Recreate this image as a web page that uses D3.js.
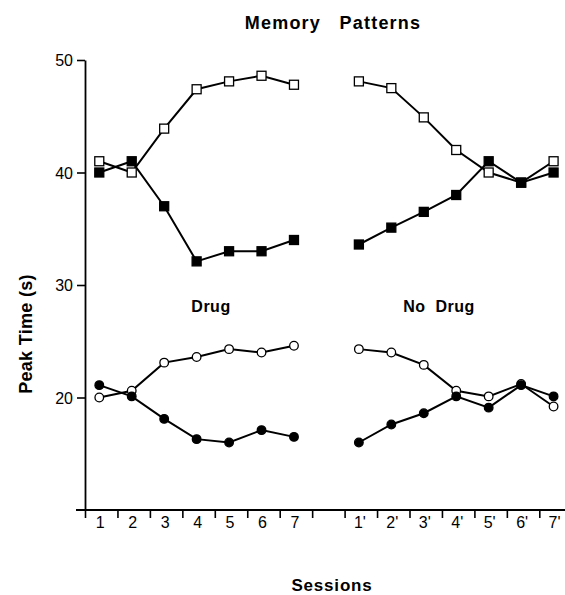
<!DOCTYPE html>
<html>
<head>
<meta charset="utf-8">
<script src="https://cdn.jsdelivr.net/npm/d3@7"></script>
<style>
  body { margin: 0; background: #fff; }
  text { font-family: "Liberation Sans", Arial, sans-serif; fill: #000; }
</style>
</head>
<body>
<div id="chart"></div>
<script>
// ---- data ----
var drugSessions = ["1", "2", "3", "4", "5", "6", "7"];
var noDrugSessions = ["1'", "2'", "3'", "4'", "5'", "6'", "7'"];

// squares (upper pair)
var drugOpenSq    = [41.0, 40.0, 43.9, 47.4, 48.1, 48.6, 47.8];
var drugFilledSq  = [40.0, 41.0, 37.0, 32.1, 33.0, 33.0, 34.0];
var noDrugOpenSq  = [48.1, 47.5, 44.9, 42.0, 40.0, 39.1, 41.0];
var noDrugFilledSq = [33.6, 35.1, 36.5, 38.0, 41.0, 39.1, 40.0];

// circles (lower pair)
var drugOpenCirc    = [20.0, 20.6, 23.1, 23.6, 24.3, 24.0, 24.6];
var drugFilledCirc  = [21.1, 20.1, 18.1, 16.3, 16.0, 17.1, 16.5];
var noDrugOpenCirc  = [24.3, 24.0, 22.9, 20.6, 20.1, 21.2, 19.2];
var noDrugFilledCirc = [16.0, 17.6, 18.6, 20.1, 19.1, 21.1, 20.1];

var yTicks = [20, 30, 40, 50];

// ---- svg area ----
var svgWidth = 565;
var svgHeight = 595;

var svg = d3.select("#chart")
    .append("svg")
    .attr("width", svgWidth)
    .attr("height", svgHeight);

// slots: 0-6 drug, 7 empty, 8-14 no drug
var xScale = d3.scaleLinear()
    .domain([0, 15])
    .range([85, 85 + 15 * 32.45]);

var yScale = d3.scaleLinear()
    .domain([10, 50])
    .range([510, 60]);

var markOffset = 0.44;

function slotX(i, block) {
    return xScale(block * 8 + i + markOffset);
}

// ---- axes ----
var leftAxis = d3.axisLeft(yScale)
    .tickValues(yTicks)
    .tickSize(8)
    .tickSizeOuter(0)
    .tickPadding(4);

var yAxisG = svg.append("g")
    .attr("transform", `translate(${xScale(0)}, 0)`)
    .call(leftAxis);
yAxisG.select(".domain").attr("stroke-width", 1.8);
yAxisG.selectAll(".tick line").attr("stroke-width", 1.6);
yAxisG.selectAll(".tick text")
    .style("font-size", "16px")
    .attr("dy", "0.36em");

var bottomAxis = d3.axisBottom(xScale)
    .tickValues(d3.range(0, 15))
    .tickFormat("")
    .tickSize(8)
    .tickSizeOuter(0);

var xAxisG = svg.append("g")
    .attr("transform", `translate(0, ${yScale(10)})`)
    .call(bottomAxis);
xAxisG.select(".domain").remove();
xAxisG.selectAll(".tick line").attr("stroke-width", 1.6);
xAxisG.append("line")
    .attr("x1", xScale(0) - 9)
    .attr("x2", svgWidth)
    .attr("stroke", "#000")
    .attr("stroke-width", 1.8);

// session labels
[drugSessions, noDrugSessions].forEach(function(labels, block) {
    svg.selectAll(null)
        .data(labels)
        .enter()
        .append("text")
        .attr("x", (d, i) => slotX(i, block) + 1)
        .attr("y", 528)
        .attr("text-anchor", "middle")
        .style("font-size", "16px")
        .text(d => d);
});

// ---- series ----
var line = d3.line()
    .x(d => d.x)
    .y(d => yScale(d.v));

var series = [
    { vals: drugOpenSq, block: 0, shape: "square", filled: false },
    { vals: drugFilledSq, block: 0, shape: "square", filled: true },
    { vals: noDrugOpenSq, block: 1, shape: "square", filled: false },
    { vals: noDrugFilledSq, block: 1, shape: "square", filled: true },
    { vals: drugOpenCirc, block: 0, shape: "circle", filled: false },
    { vals: drugFilledCirc, block: 0, shape: "circle", filled: true },
    { vals: noDrugOpenCirc, block: 1, shape: "circle", filled: false },
    { vals: noDrugFilledCirc, block: 1, shape: "circle", filled: true }
];

series.forEach(function(s) {
    s.pts = s.vals.map((v, i) => ({ x: slotX(i, s.block), v: v }));
    svg.append("path")
        .datum(s.pts)
        .attr("d", line)
        .attr("fill", "none")
        .attr("stroke", "#000")
        .attr("stroke-width", 2);
});

series.forEach(function(s) {
    var g = svg.append("g");
    if (s.shape === "square") {
        g.selectAll("rect")
            .data(s.pts)
            .enter()
            .append("rect")
            .attr("x", d => d.x - 4.5)
            .attr("y", d => yScale(d.v) - 4.5)
            .attr("width", 9)
            .attr("height", 9)
            .attr("fill", s.filled ? "#000" : "#fff")
            .attr("stroke", "#000")
            .attr("stroke-width", 1.3);
    } else {
        g.selectAll("circle")
            .data(s.pts)
            .enter()
            .append("circle")
            .attr("cx", d => d.x)
            .attr("cy", d => yScale(d.v))
            .attr("r", 4.3)
            .attr("fill", s.filled ? "#000" : "#fff")
            .attr("stroke", "#000")
            .attr("stroke-width", 1.3);
    }
});

// ---- text ----
svg.append("text")
    .attr("x", 333)
    .attr("y", 29)
    .attr("text-anchor", "middle")
    .attr("xml:space", "preserve")
    .style("white-space", "pre")
    .style("font-size", "18px")
    .style("font-weight", "bold")
    .style("letter-spacing", "1.2px")
    .text("Memory   Patterns");

svg.append("text")
    .attr("x", 211)
    .attr("y", 312)
    .attr("text-anchor", "middle")
    .style("font-size", "16px")
    .style("font-weight", "bold")
    .style("letter-spacing", "0.5px")
    .text("Drug");

svg.append("text")
    .attr("x", 439)
    .attr("y", 312)
    .attr("text-anchor", "middle")
    .attr("xml:space", "preserve")
    .style("white-space", "pre")
    .style("font-size", "16px")
    .style("font-weight", "bold")
    .style("letter-spacing", "0.5px")
    .text("No  Drug");

svg.append("text")
    .attr("x", 332)
    .attr("y", 591)
    .attr("text-anchor", "middle")
    .style("font-size", "17px")
    .style("font-weight", "bold")
    .style("letter-spacing", "0.8px")
    .text("Sessions");

svg.append("text")
    .attr("transform", "translate(32, 334) rotate(-90)")
    .attr("text-anchor", "middle")
    .style("font-size", "18px")
    .style("font-weight", "bold")
    .style("letter-spacing", "0.3px")
    .text("Peak Time (s)");
</script>
</body>
</html>
